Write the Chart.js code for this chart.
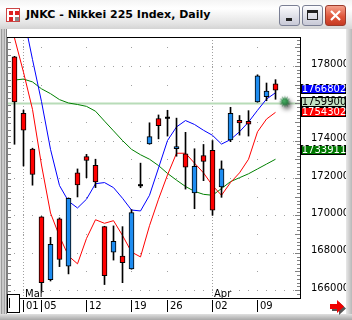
<!DOCTYPE html>
<html>
<head>
<meta charset="utf-8">
<script src="https://cdn.jsdelivr.net/npm/chart.js@4.4.0/dist/chart.umd.min.js"></script>
<style>
  html, body { margin: 0; padding: 0; }
  body { width: 352px; height: 320px; overflow: hidden; position: relative; background: #d0d0d0; font-family: "Liberation Sans", Arial, sans-serif; }
  #titlebar { position: absolute; left: 0; top: 0; width: 352px; height: 29px; background: linear-gradient(#f4f4f4, #ffffff 30%, #e4e4e4 80%, #d4d4d4); }
  #icon { position: absolute; left: 6px; top: 8px; width: 14px; height: 14px; background: #fff; border: 1px solid #c44; box-sizing: border-box; }
  #icon:before { content: ""; position: absolute; left: 2px; top: 2px; width: 4px; height: 4px; background: #d22; box-shadow: 6px 0 #d22, 0 6px #d22, 6px 6px #888; }
  #ttl { position: absolute; left: 26px; top: 8px; font: bold 11px "DejaVu Sans", sans-serif; color: #000; white-space: nowrap; }
  .btn { position: absolute; top: 5px; width: 21px; height: 21px; box-sizing: border-box; border: 1px solid #7a7f94; border-radius: 3px; background: linear-gradient(#fcfcfe, #dcdde6 60%, #c8c9d6); }
  #bmin { left: 279px; }
  #bmin:after { content: ""; position: absolute; left: 6px; top: 12px; width: 6px; height: 3px; background: #222; }
  #bmax { left: 302px; }
  #bmax:after { content: ""; position: absolute; left: 4px; top: 4px; width: 11px; height: 10px; box-sizing: border-box; border: 1px solid #222; border-top-width: 3px; }
  #bclose { left: 325px; border-color: #9a3b2c; background: linear-gradient(#f4a18c, #e0573c 55%, #c63a22); }
  #bclose svg { position: absolute; left: 3px; top: 3px; }
  #leftedge { position: absolute; left: 0; top: 29px; width: 7px; height: 291px; background: linear-gradient(90deg, #d6d6d6 0, #d6d6d6 1px, #9c9c9c 1px, #9c9c9c 2px, #c8c8c8 2px, #c8c8c8 4px, #a4a4a4 4px, #a4a4a4 5px, #d8d8d8 5px, #d8d8d8 6px, #808080 6px); }
  #content { position: absolute; left: 7px; top: 29px; width: 339px; height: 285px; background: #fff; }
  #content canvas { position: absolute; left: 0; top: 0; }
  #rightedge { position: absolute; left: 346px; top: 29px; width: 6px; height: 291px; background: linear-gradient(90deg, #e8e8e8, #b8b8b8); }
  #bottomedge { position: absolute; left: 0; top: 314px; width: 352px; height: 6px; background: linear-gradient(#e0e0e0, #a8a8a8); }
  #scrollbox { position: absolute; left: 7px; top: 294px; width: 13px; height: 19px; box-sizing: border-box; border: 1px solid #000; background: #fff; }
  #scrollbox:after { content: ""; position: absolute; left: 1px; top: 3px; width: 1px; height: 10px; background: #000; }
  #arrow { position: absolute; left: 329px; top: 299px; }
</style>
</head>
<body>
<div id="titlebar">
  <div id="icon"></div>
  <div id="ttl">JNKC - Nikkei 225 Index, Daily</div>
  <div class="btn" id="bmin"></div>
  <div class="btn" id="bmax"></div>
  <div class="btn" id="bclose"><svg width="13" height="13"><path d="M2 2 L11 11 M11 2 L2 11" stroke="#fff" stroke-width="2.2"/></svg></div>
</div>
<div id="leftedge"></div>
<div id="content"><canvas id="chart" width="339" height="285"></canvas></div>
<div id="rightedge"></div>
<div id="bottomedge"></div>
<div id="scrollbox"></div>
<svg id="arrow" width="18" height="16"><polygon points="2,6 9,6 9,2 16,8.5 9,15 9,11 2,11" fill="#555" transform="translate(1,1)"/><polygon points="1,5 8,5 8,1 15,7.5 8,14 8,10 1,10" fill="#f00000"/></svg>
<script>
// trading days, 29 Feb - 11 Apr 2012
const dates = ['02/29','03/01','03/02','03/05','03/06','03/07','03/08','03/09','03/12','03/13',
  '03/14','03/15','03/16','03/19','03/21','03/22','03/23','03/26','03/27','03/28',
  '03/29','03/30','04/02','04/03','04/04','04/05','04/06','04/09','04/10','04/11'];

const opens  = [1784900,1754700,1735500,1699200,1665600,1698200,1672900,1722800,1731500,1726800,
  1694000,1680300,1678200,1671400,1716200,1738300,1751900,1752300,1735700,1733000,
  1712000,1732100,1734800,1715300,1740400,1750900,1750400,1760800,1763600,1770400];
const highs  = [1785200,1756400,1736000,1699400,1688300,1698700,1709400,1724900,1732700,1730100,
  1694200,1694400,1694000,1703100,1728000,1749600,1753800,1756300,1752100,1744500,
  1735700,1738000,1740100,1729200,1757900,1753500,1756100,1775300,1770900,1772700];
const lows   = [1738100,1726500,1716200,1659600,1664900,1672600,1668700,1709900,1720200,1714900,
  1663000,1676100,1664000,1671200,1714900,1738100,1741000,1742500,1731700,1714100,
  1703600,1718600,1700100,1709700,1739500,1743000,1742500,1760600,1761400,1762200];
const closes = [1760800,1745700,1721900,1664000,1684600,1676400,1709200,1716400,1729400,1717900,
  1667700,1686200,1674700,1701500,1716200,1742200,1748100,1752300,1736900,1725900,
  1726300,1728900,1702800,1724900,1754700,1749500,1748800,1774800,1766600,1767100];

// moving averages
const maFast = [null,1807000,1783500,1761000,1735400,1716000,1707600,1704000,1708700,1717000,
  1717600,1714900,1709200,1702900,1702400,1710800,1725400,1740100,1747400,1750800,
  1748700,1745600,1742900,1738200,1740600,1744800,1750000,1756300,1762300,1765700];
const maMid  = [1795000,1776700,1756800,1727000,1701300,1688800,1678300,1674100,1687700,1697700,
  1695800,1697200,1689300,1680400,1677800,1694500,1708700,1721700,1733300,1733300,
  1728000,1722800,1716000,1710800,1717600,1722800,1730100,1744800,1751600,1755200];
const maSlow = [1772500,1773000,1771500,1767800,1765200,1762000,1760200,1759400,1758400,1755800,
  1750500,1745300,1740100,1735400,1732500,1730100,1726700,1722500,1718900,1715500,
  1712900,1711300,1710800,1714400,1718100,1720200,1722300,1724900,1727500,1730100];

const priceTicks = [1660000,1680000,1700000,1720000,1740000,1760000,1780000];
const dateTickIdx = [1,3,8,13,17,22,27];
const dateTickText = ['01','05','12','19','26','02','09'];
const monthIdx = [1,22];
const monthText = ['Mar','Apr'];

const lastPrice = 1759900;
const markIdx = 30.25;
const tagValues = [1766802,1759900,1754302,1733911];
const tagFill = ['#0000ff','#c4e2c4','#ff0000','#007800'];
const tagInk  = ['#fff','#000','#fff','#fff'];

const yMin = 1655800, yMax = 1795000;
const xMin = -0.833, xMax = 31.72;

const RED = '#ff0000', BLUE = '#1e8cf0';

function starImage() {
  const c = document.createElement('canvas');
  c.width = 26; c.height = 26;
  const g = c.getContext('2d');
  g.save();
  g.shadowColor = 'rgba(0,0,0,0.75)';
  g.shadowBlur = 5;
  g.shadowOffsetX = 2; g.shadowOffsetY = 3;
  g.beginPath();
  const n = 12;
  for (let k = 0; k < n * 2; k++) {
    const r = k % 2 ? 2.8 : 6;
    const a = k * Math.PI / n;
    g.lineTo(11 + r * Math.cos(a), 11 + r * Math.sin(a));
  }
  g.closePath();
  const grad = g.createRadialGradient(10, 10, 0, 11, 11, 6);
  grad.addColorStop(0, '#4fb36a');
  grad.addColorStop(1, '#0e5a26');
  g.fillStyle = grad;
  g.fill();
  g.restore();
  return c;
}

const idx = dates.map((d, i) => i);
const bodyIdx = idx.filter(i => opens[i] !== closes[i]);
const dojiIdx = idx.filter(i => opens[i] === closes[i]);

const gridDots = {
  id: 'gridDots',
  beforeDatasetsDraw(chart) {
    const { ctx, chartArea: a, scales: { x, y } } = chart;
    ctx.save();
    ctx.fillStyle = '#a0a0a0';
    for (let v = priceTicks[0]; v < yMax; v += 10000) {
      const py = Math.round(y.getPixelForValue(v));
      if (py <= a.top || py >= a.bottom) continue;
      if (priceTicks.includes(v) || v % 20000 === 0) {
        for (let i = 0; i < xMax; i++) {
          const px = Math.floor(x.getPixelForValue(i));
          if (px > a.left && px < a.right) ctx.fillRect(px, py, 1, 1);
        }
      } else {
        dateTickIdx.forEach(i => ctx.fillRect(Math.floor(x.getPixelForValue(i)), py, 1, 1));
      }
    }
    monthIdx.forEach(i => {
      const px = Math.floor(x.getPixelForValue(i));
      for (let py = a.top + 2; py < a.bottom; py += 3) ctx.fillRect(px, py, 1, 1);
    });
    ctx.restore();
  }
};

const frame = {
  id: 'frame',
  afterDraw(chart) {
    const { ctx, chartArea: a, scales: { x, y } } = chart;
    ctx.save();
    // top and bottom border of the plot
    ctx.fillStyle = '#000';
    ctx.fillRect(a.left, a.top - 1, a.right - a.left + 1, 1);
    ctx.fillRect(13, a.bottom, a.right - 13 + 1, 1);
    // left edge with its small ticks
    ctx.fillStyle = '#808080';
    ctx.fillRect(a.left, a.top, 1, a.bottom - a.top);
    for (let v = 1656000; v < yMax; v += 10000 / 3) {
      const py = Math.round(y.getPixelForValue(v));
      if (py <= a.top + 1 || py >= a.bottom - 4) continue;
      ctx.fillRect(a.left + 1, py, 3, 1);
    }
    // small ticks inside the right border
    for (let v = 1656000; v < yMax; v += 2000) {
      const py = Math.round(y.getPixelForValue(v));
      if (py <= a.top || py >= a.bottom) continue;
      const len = v % 10000 === 0 ? 5 : 3;
      ctx.fillRect(a.right - len, py, len, 1);
    }
    // date axis
    ctx.fillStyle = '#000';
    ctx.font = '10px "DejaVu Sans"';
    ctx.textBaseline = 'middle';
    ctx.textAlign = 'left';
    dateTickIdx.forEach((i, k) => {
      const px = Math.floor(x.getPixelForValue(i));
      ctx.fillRect(px, a.bottom + 2, 1, 12);
      ctx.fillText(dateTickText[k], px + 3, a.bottom + 8);
    });
    monthIdx.forEach((i, k) => {
      const px = Math.floor(x.getPixelForValue(i));
      ctx.fillText(monthText[k], px + 2, a.bottom - 4);
    });
    // price tags on the right axis
    ctx.font = '10px "DejaVu Sans"';
    ctx.textAlign = 'center';
    tagValues.forEach((v, k) => {
      const py = Math.round(y.getPixelForValue(v)) - 2;
      ctx.fillStyle = '#000';
      ctx.fillRect(a.right + 1, py - 5, 45, 10);
      ctx.fillStyle = tagFill[k];
      ctx.fillRect(a.right + 2, py - 4, 43, 8);
      ctx.fillStyle = tagInk[k];
      ctx.fillText(String(v), a.right + 24, py + 0.5);
    });
    ctx.restore();
  }
};

new Chart(document.getElementById('chart'), {
  type: 'bar',
  data: {
    datasets: [
      {
        type: 'line', label: 'last', order: 7,
        data: [{ x: xMin, y: lastPrice }, { x: xMax, y: lastPrice }],
        borderColor: '#b8dcb8', borderWidth: 2, pointRadius: 0
      },
      {
        type: 'line', label: 'slow', order: 6,
        data: idx.map(i => ({ x: i, y: maSlow[i] })),
        borderColor: '#008000', borderWidth: 1, pointRadius: 0, tension: 0
      },
      {
        type: 'line', label: 'mid', order: 5,
        data: idx.map(i => ({ x: i, y: maMid[i] })),
        borderColor: '#ff0000', borderWidth: 1, pointRadius: 0, tension: 0
      },
      {
        type: 'line', label: 'fast', order: 4,
        data: idx.map(i => ({ x: i, y: maFast[i] })),
        borderColor: '#0000ff', borderWidth: 1, pointRadius: 0, tension: 0
      },
      {
        label: 'wick', order: 3, grouped: false,
        data: idx.map(i => ({ x: i, y: [lows[i], highs[i]] })),
        backgroundColor: '#000', borderWidth: 0, barThickness: 1
      },
      {
        label: 'body', order: 2, grouped: false,
        data: bodyIdx.map(i => ({ x: i, y: [opens[i], closes[i]] })),
        backgroundColor: ctx => (ctx.raw.y[1] > ctx.raw.y[0] ? BLUE : RED),
        borderColor: '#000', borderWidth: 1, borderSkipped: false, barThickness: 5
      },
      {
        type: 'line', label: 'doji', order: 1, showLine: false,
        data: dojiIdx.map(i => ({ x: i, y: opens[i] })),
        pointStyle: 'line', pointRadius: 2.5, pointBorderWidth: 2, pointBorderColor: '#000'
      },
      {
        type: 'line', label: 'mark', order: 0, showLine: false,
        data: [{ x: markIdx, y: lastPrice }],
        pointStyle: starImage(), pointRadius: 10
      }
    ]
  },
  options: {
    responsive: false,
    animation: false,
    layout: { autoPadding: false, padding: { top: 3, right: 0, bottom: 16, left: 0 } },
    plugins: { legend: { display: false }, tooltip: { enabled: false } },
    scales: {
      x: { type: 'linear', min: xMin, max: xMax, offset: false, display: false },
      y: {
        type: 'linear', position: 'right', min: yMin, max: yMax,
        afterBuildTicks: s => { s.ticks = priceTicks.map(v => ({ value: v })); },
        afterFit: s => { s.width = 46; },
        grid: { display: false },
        border: { display: true, color: '#000', width: 1 },
        ticks: { color: '#000', padding: 3, labelOffset: -2, font: { family: 'DejaVu Sans', size: 10 }, callback: v => String(v) }
      }
    }
  },
  plugins: [gridDots, frame]
});
</script>
</body>
</html>
